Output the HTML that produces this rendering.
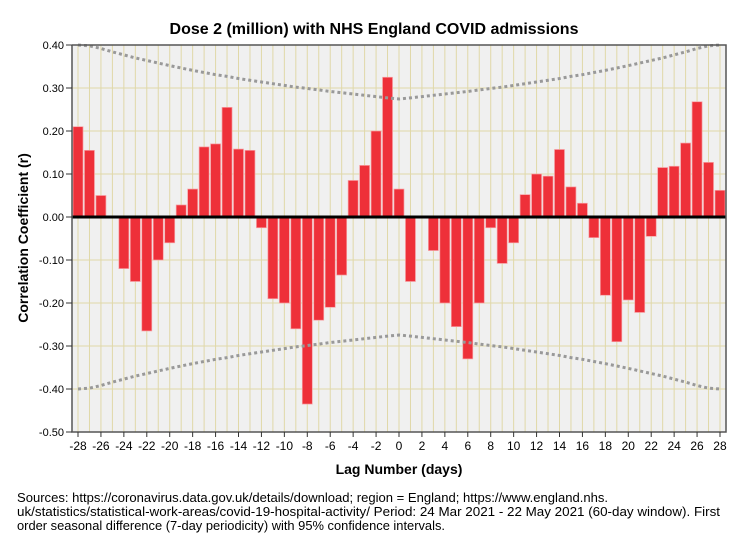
<!DOCTYPE html>
<html><head><meta charset="utf-8"><style>
body{margin:0;background:#fff;font-family:"Liberation Sans",Arial,sans-serif}
svg text{font-family:"Liberation Sans",Arial,sans-serif}
</style></head><body>
<svg id="c" width="747" height="541" xmlns="http://www.w3.org/2000/svg">
<text x="374" y="34" text-anchor="middle" font-size="16" font-weight="bold">Dose 2 (million) with NHS England COVID admissions</text>
<rect x="72" y="45" width="654" height="387" fill="#f0f0f0"/>
<g id="grid"></g><g id="bars"></g><g id="conf"></g><g id="axes"></g>
<text transform="translate(28,238) rotate(-90)" text-anchor="middle" font-size="14" font-weight="bold">Correlation Coefficient (r)</text>
<text x="399" y="474" text-anchor="middle" font-size="14" font-weight="bold">Lag Number (days)</text>
<g font-size="13">
<text x="17" y="502" textLength="591" lengthAdjust="spacingAndGlyphs">Sources: https://coronavirus.data.gov.uk/details/download; region = England; https://www.england.nhs.</text>
<text x="17" y="516" textLength="703" lengthAdjust="spacingAndGlyphs">uk/statistics/statistical-work-areas/covid-19-hospital-activity/ Period: 24 Mar 2021 - 22 May 2021 (60-day window). First</text>
<text x="17" y="530" textLength="428" lengthAdjust="spacingAndGlyphs">order seasonal difference (7-day periodicity) with 95% confidence intervals.</text>
</g>
</svg>
<script>
const lags=[-28,-27,-26,-25,-24,-23,-22,-21,-20,-19,-18,-17,-16,-15,-14,-13,-12,-11,-10,-9,-8,-7,-6,-5,-4,-3,-2,-1,0,1,2,3,4,5,6,7,8,9,10,11,12,13,14,15,16,17,18,19,20,21,22,23,24,25,26,27,28];
const acf=[0.21,0.155,0.05,0,-0.12,-0.15,-0.265,-0.10,-0.06,0.028,0.065,0.163,0.17,0.255,0.158,0.155,-0.025,-0.19,-0.20,-0.26,-0.435,-0.24,-0.21,-0.135,0.085,0.12,0.20,0.325,0.065,-0.15,0,-0.078,-0.20,-0.255,-0.33,-0.20,-0.025,-0.108,-0.06,0.052,0.10,0.095,0.157,0.07,0.032,-0.048,-0.182,-0.29,-0.193,-0.222,-0.045,0.115,0.118,0.172,0.268,0.127,0.062];
const ucl=[0.400,0.398,0.392,0.384,0.377,0.370,0.364,0.358,0.352,0.3465,0.341,0.336,0.331,0.327,0.322,0.318,0.314,0.310,0.306,0.302,0.299,0.2955,0.292,0.289,0.286,0.283,0.280,0.277,0.2745,0.277,0.280,0.283,0.286,0.289,0.292,0.2955,0.299,0.302,0.306,0.310,0.314,0.318,0.322,0.327,0.331,0.336,0.341,0.3465,0.352,0.358,0.364,0.370,0.377,0.384,0.392,0.398,0.400];
const yTicks=[0.40,0.30,0.20,0.10,0.00,-0.10,-0.20,-0.30,-0.40,-0.50];
const xTicks=[-28,-26,-24,-22,-20,-18,-16,-14,-12,-10,-8,-6,-4,-2,0,2,4,6,8,10,12,14,16,18,20,22,24,26,28];
const NS='http://www.w3.org/2000/svg';
const X=l=>399+l*11.464;
const Y=v=>217-v*430;
function mk(parent,tag,attrs){const e=document.createElementNS(NS,tag);for(const k in attrs)e.setAttribute(k,attrs[k]);document.getElementById(parent).appendChild(e);return e;}
lags.forEach(l=>{const g=mk('grid','line',{x1:X(l),x2:X(l),y1:45,y2:432,stroke:'#e0d8a8','stroke-width':1});

});
yTicks.forEach(t=>{const g=mk('grid','line',{x1:72,x2:726,y1:Y(t),y2:Y(t),stroke:'#e0d8a8','stroke-width':1});

});
lags.forEach((l,i)=>{const v=acf[i];if(v===0)return;
const r=mk('bars','rect',{x:X(l)-5,y:Math.min(Y(v),Y(0)),width:10,height:Math.abs(Y(v)-Y(0)),fill:'#ee3039',stroke:'#f7a0a4','stroke-width':0.7});

});
const up=lags.map((l,i)=>X(l)+','+Y(ucl[i])).join(' ');
const lo=lags.map((l,i)=>X(l)+','+Y(-ucl[i])).join(' ');
const p1=mk('conf','polyline',{points:up,fill:'none',stroke:'#999','stroke-width':3,'stroke-dasharray':'3,3'});


const p2=mk('conf','polyline',{points:lo,fill:'none',stroke:'#999','stroke-width':3,'stroke-dasharray':'3,3'});


const z=mk('axes','line',{x1:72,x2:726,y1:Y(0),y2:Y(0),stroke:'#000','stroke-width':3});


const b=mk('axes','path',{d:'M72,45 V432 H726 V45 H72',fill:'none',stroke:'#555','stroke-width':1.5});


yTicks.forEach(t=>{const tk=mk('axes','line',{x1:66,x2:72,y1:Y(t),y2:Y(t),stroke:'#333'});


const tx=mk('axes','text',{x:64,y:Y(t)+4,'text-anchor':'end','font-size':11});
tx.textContent=t.toFixed(2);

});
xTicks.forEach(t=>{const tk=mk('axes','line',{x1:X(t),x2:X(t),y1:432,y2:437,stroke:'#333'});


const tx=mk('axes','text',{x:X(t),y:450,'text-anchor':'middle','font-size':12});
tx.textContent=t;

});
</script>
</body></html>
